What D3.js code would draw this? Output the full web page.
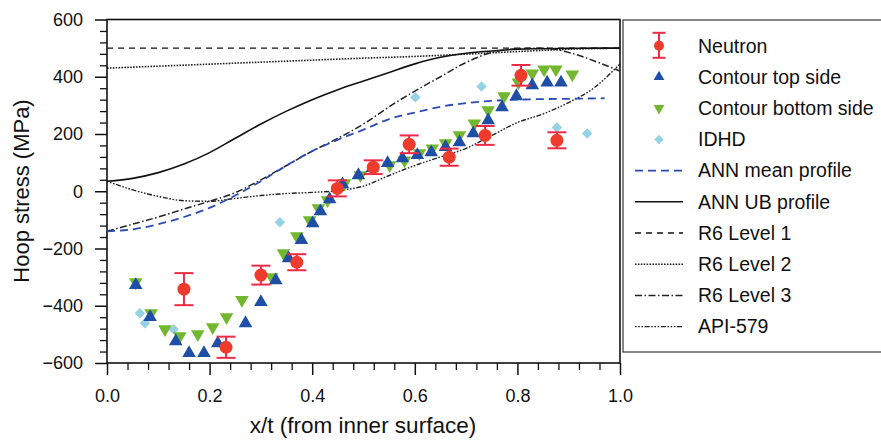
<!DOCTYPE html>
<html>
<head>
<meta charset="utf-8">
<script src="https://cdn.jsdelivr.net/npm/d3@7"></script>
<style>
  html, body { margin: 0; padding: 0; background: #fff; }
  svg { display: block; font-family: "Liberation Sans", Arial, sans-serif; }
</style>
</head>
<body>
<svg id="chart" width="881" height="440"></svg>
<script>
// ---------- data ----------
const neutronX   = [0.150, 0.232, 0.300, 0.370, 0.449, 0.519, 0.589, 0.667, 0.737, 0.807, 0.877];
const neutronY   = [-342, -545, -293, -248, 10, 84, 164, 119, 195, 405, 178];
const neutronErr = [56, 37, 33, 28, 28, 24, 31, 30, 33, 36, 28];

const topX = [0.056,0.084,0.134,0.160,0.189,0.216,0.270,0.300,0.329,0.354,0.379,0.401,0.416,0.434,0.459,0.490,0.517,0.547,0.576,0.605,0.632,0.660,0.687,0.714,0.743,0.770,0.798,0.829,0.858,0.885];
const topY = [-328,-440,-524,-565,-565,-531,-461,-387,-311,-234,-171,-112,-70,-28,24,56,80,98,115,126,136,154,171,202,248,293,332,370,380,380];

const botX = [0.056,0.086,0.113,0.142,0.177,0.206,0.233,0.263,0.321,0.344,0.370,0.395,0.412,0.430,0.463,0.494,0.551,0.580,0.609,0.634,0.660,0.687,0.716,0.743,0.774,0.802,0.829,0.852,0.875,0.907];
const botY = [-318,-426,-482,-506,-499,-475,-440,-380,-300,-216,-157,-101,-59,-31,28,56,91,108,133,150,168,196,237,283,332,380,412,426,426,408];

const idhdX = [0.064,0.074,0.130,0.337,0.601,0.730,0.877,0.936];
const idhdY = [-426,-461,-482,-108,328,366,223,202];

const profX   = [0,0.05,0.1,0.15,0.2,0.25,0.3,0.35,0.4,0.45,0.5,0.55,0.6,0.65,0.7,0.75,0.8,0.85,0.9,0.95,1.0];
const annUB   = [35,45,65,95,135,185,235,280,320,355,385,415,445,468,482,490,496,498,499,500,500];
const r6L3    = [-140,-115,-90,-62,-35,-5,40,90,140,185,235,295,350,400,450,485,498,500,485,455,420];
const api579  = [35,5,-18,-33,-35,-25,-15,-8,-4,2,18,55,90,120,150,195,240,270,310,362,445];

const meanX = [0,0.05,0.1,0.15,0.2,0.25,0.3,0.35,0.4,0.45,0.5,0.55,0.6,0.65,0.7,0.75,0.8,0.85,0.9,0.97];
const meanY = [-140,-133,-115,-90,-58,-15,35,90,140,180,215,252,275,295,308,316,320,322,323,325];

const r6L1X = [0, 1.0];
const r6L1Y = [500, 500];
const r6L2X = [0,0.1,0.2,0.3,0.4,0.5,0.6,0.7,0.8,0.9,1.0];
const r6L2Y = [430,437,444,451,458,465,471,479,488,496,500];

const xMajor = [0, 0.2, 0.4, 0.6, 0.8, 1.0];
const yMajor = [-600, -400, -200, 0, 200, 400, 600];

const legendLabels = ["Neutron","Contour top side","Contour bottom side","IDHD","ANN mean profile",
                      "ANN UB profile","R6 Level 1","R6 Level 2","R6 Level 3","API-579"];

// ---------- styles ----------
const C_RED = "#ef3b2c", C_ERR = "#ee2b45", C_BLUE = "#1f4ea6", C_GREEN = "#72b72f",
      C_LB = "#95d2e3", C_MEAN = "#2b4bb3";
const lineStyles = {
  mean: {stroke: C_MEAN, width: 1.8, dash: "8,5"},
  ub:   {stroke: "#111", width: 1.6, dash: null},
  l1:   {stroke: "#111", width: 1.4, dash: "6,5"},
  l2:   {stroke: "#222", width: 1.6, dash: "1.6,1.3"},
  l3:   {stroke: "#222", width: 1.5, dash: "7,2.5,1.5,2.5"},
  api:  {stroke: "#222", width: 1.4, dash: "1.6,1.6,1.6,1.6,1.6,1.6,5,1.6"}
};

// ---------- chart ----------
const svg = d3.select("#chart");
svg.append("rect").attr("width", 881).attr("height", 440).attr("fill", "#fff");

const x = d3.scaleLinear().domain([0, 1]).range([107, 620]);
const y = d3.scaleLinear().domain([-600, 600]).range([363, 19.5]);

const xMinor = d3.range(0, 1.0001, 0.04).map(v => +v.toFixed(2)).filter(v => !xMajor.some(m => Math.abs(m - v) < 1e-6));
const yMinor = d3.range(-600, 601, 40).filter(v => !yMajor.includes(v));

// minor ticks
svg.append("g").attr("transform", "translate(0,363)")
  .call(d3.axisBottom(x).tickValues(xMinor).tickSize(7).tickSizeOuter(0).tickFormat(""))
  .call(g => g.select(".domain").remove())
  .call(g => g.selectAll("line").attr("stroke", "#111").attr("stroke-width", 1.3));
svg.append("g").attr("transform", "translate(107,0)")
  .call(d3.axisLeft(y).tickValues(yMinor).tickSize(7).tickSizeOuter(0).tickFormat(""))
  .call(g => g.select(".domain").remove())
  .call(g => g.selectAll("line").attr("stroke", "#111").attr("stroke-width", 1.3));

// major ticks
svg.append("g").attr("transform", "translate(0,363)")
  .call(d3.axisBottom(x).tickValues(xMajor).tickSize(12).tickPadding(14).tickSizeOuter(0).tickFormat(d3.format(".1f")))
  .call(g => g.select(".domain").remove())
  .call(g => g.selectAll("line").attr("stroke", "#111").attr("stroke-width", 1.5))
  .call(g => g.selectAll("text").attr("font-size", 18).attr("fill", "#111")
        .attr("font-family", "'Liberation Sans', Arial, sans-serif"));
svg.append("g").attr("transform", "translate(107,0)")
  .call(d3.axisLeft(y).tickValues(yMajor).tickSize(12).tickPadding(12).tickSizeOuter(0).tickFormat(d3.format("d")))
  .call(g => g.select(".domain").remove())
  .call(g => g.selectAll("line").attr("stroke", "#111").attr("stroke-width", 1.5))
  .call(g => g.selectAll("text").attr("font-size", 18).attr("fill", "#111")
        .attr("font-family", "'Liberation Sans', Arial, sans-serif"));

// frame
svg.append("rect").attr("x", x(0)).attr("y", y(600)).attr("width", x(1) - x(0)).attr("height", y(-600) - y(600))
  .attr("fill", "none").attr("stroke", "#111").attr("stroke-width", 1.6);

// lines
const lineGen = d3.line().x(d => x(d[0])).y(d => y(d[1])).curve(d3.curveMonotoneX);
function drawLine(xs, ys, st) {
  svg.append("path").datum(xs.map((v, i) => [v, ys[i]]))
    .attr("d", lineGen).attr("fill", "none")
    .attr("stroke", st.stroke).attr("stroke-width", st.width)
    .attr("stroke-dasharray", st.dash);
}
drawLine(r6L1X, r6L1Y, lineStyles.l1);
drawLine(r6L2X, r6L2Y, lineStyles.l2);
drawLine(profX, api579, lineStyles.api);
drawLine(profX, r6L3, lineStyles.l3);
drawLine(profX, annUB, lineStyles.ub);
drawLine(meanX, meanY, lineStyles.mean);

// markers
const triUp = d3.symbol().type(d3.symbolTriangle).size(80);
const diamond = d3.symbol().type(d3.symbolSquare).size(55);

svg.append("g").selectAll("path").data(idhdX.map((v, i) => [v, idhdY[i]])).join("path")
  .attr("d", diamond).attr("fill", C_LB)
  .attr("transform", d => `translate(${x(d[0])},${y(d[1])}) rotate(45)`);

svg.append("g").selectAll("path").data(botX.map((v, i) => [v, botY[i]])).join("path")
  .attr("d", triUp).attr("fill", C_GREEN)
  .attr("transform", d => `translate(${x(d[0])},${y(d[1])}) rotate(180)`);

svg.append("g").selectAll("path").data(topX.map((v, i) => [v, topY[i]])).join("path")
  .attr("d", triUp).attr("fill", C_BLUE)
  .attr("transform", d => `translate(${x(d[0])},${y(d[1])})`);

const nData = neutronX.map((v, i) => ({x: v, y: neutronY[i], e: neutronErr[i]}));
const nG = svg.append("g").selectAll("g").data(nData).join("g");
nG.append("line").attr("x1", d => x(d.x)).attr("x2", d => x(d.x))
  .attr("y1", d => y(d.y - d.e)).attr("y2", d => y(d.y + d.e))
  .attr("stroke", C_ERR).attr("stroke-width", 2);
nG.append("line").attr("x1", d => x(d.x) - 9.5).attr("x2", d => x(d.x) + 9.5)
  .attr("y1", d => y(d.y - d.e)).attr("y2", d => y(d.y - d.e))
  .attr("stroke", C_ERR).attr("stroke-width", 2);
nG.append("line").attr("x1", d => x(d.x) - 9.5).attr("x2", d => x(d.x) + 9.5)
  .attr("y1", d => y(d.y + d.e)).attr("y2", d => y(d.y + d.e))
  .attr("stroke", C_ERR).attr("stroke-width", 2);
nG.append("circle").attr("cx", d => x(d.x)).attr("cy", d => y(d.y)).attr("r", 6.5).attr("fill", C_RED);

// axis titles
svg.append("text").attr("x", 363).attr("y", 433).attr("text-anchor", "middle")
  .attr("font-size", 22.5).attr("fill", "#111").text("x/t (from inner surface)");
svg.append("text").attr("transform", "translate(29,191) rotate(-90)").attr("text-anchor", "middle")
  .attr("font-size", 22).attr("fill", "#111").text("Hoop stress (MPa)");

// legend
const lg = svg.append("g");
lg.append("rect").attr("x", 623).attr("y", 20).attr("width", 300).attr("height", 332)
  .attr("fill", "#fff").attr("stroke", "#444").attr("stroke-width", 1.3);
const ly = i => 45.8 + 31.2 * i;
const sx = 659;
// neutron
lg.append("line").attr("x1", sx).attr("x2", sx).attr("y1", ly(0) - 13).attr("y2", ly(0) + 12).attr("stroke", C_ERR).attr("stroke-width", 2);
lg.append("line").attr("x1", sx - 6.5).attr("x2", sx + 6.5).attr("y1", ly(0) - 13).attr("y2", ly(0) - 13).attr("stroke", C_ERR).attr("stroke-width", 2);
lg.append("line").attr("x1", sx - 6.5).attr("x2", sx + 6.5).attr("y1", ly(0) + 12).attr("y2", ly(0) + 12).attr("stroke", C_ERR).attr("stroke-width", 2);
lg.append("circle").attr("cx", sx).attr("cy", ly(0)).attr("r", 5).attr("fill", C_RED);
const triLeg = d3.symbol().type(d3.symbolTriangle).size(50);
lg.append("path").attr("d", triLeg).attr("fill", C_BLUE).attr("transform", `translate(${sx},${ly(1)})`);
lg.append("path").attr("d", triLeg).attr("fill", C_GREEN).attr("transform", `translate(${sx},${ly(2)}) rotate(180)`);
lg.append("path").attr("d", d3.symbol().type(d3.symbolSquare).size(45)).attr("fill", C_LB)
  .attr("transform", `translate(${sx},${ly(3)}) rotate(45)`);
const legLines = [lineStyles.mean, lineStyles.ub, lineStyles.l1, lineStyles.l2, lineStyles.l3, lineStyles.api];
legLines.forEach((st, k) => {
  lg.append("line").attr("x1", 635).attr("x2", 683).attr("y1", ly(4 + k)).attr("y2", ly(4 + k))
    .attr("stroke", st.stroke).attr("stroke-width", st.width).attr("stroke-dasharray", st.dash);
});
lg.selectAll("text.lbl").data(legendLabels).join("text").attr("class", "lbl")
  .attr("x", 698).attr("y", (d, i) => ly(i) + 6.8)
  .attr("font-size", 19.5).attr("fill", "#111").text(d => d);
</script>
</body>
</html>
